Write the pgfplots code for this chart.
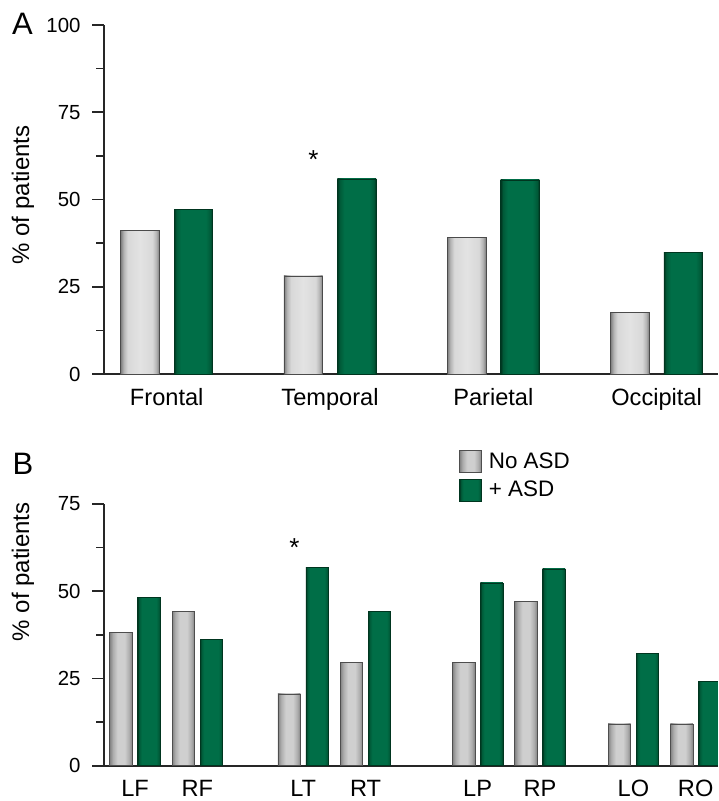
\documentclass[border=0pt]{standalone}
\usepackage{fontspec}
\setmainfont{Liberation Sans}
\usepackage{pgfplots}
\pgfplotsset{compat=1.18}

\definecolor{gAe}{HTML}{7D7D7D}
\definecolor{gAm}{HTML}{B4B4B4}
\definecolor{gAn}{HTML}{D8D8D8}
\definecolor{gAc}{HTML}{E3E3E3}
\definecolor{gBe}{HTML}{828282}
\definecolor{gBm}{HTML}{ADADAD}
\definecolor{gBc}{HTML}{CFCFCF}
\definecolor{grE}{HTML}{00351F}
\definecolor{grM}{HTML}{005A38}
\definecolor{grC}{HTML}{006E47}

\pgfdeclarehorizontalshading{grayA}{100bp}{color(0bp)=(gAe); color(25bp)=(gAe); color(29bp)=(gAm); color(34bp)=(gAn); color(50bp)=(gAc); color(66bp)=(gAn); color(71bp)=(gAm); color(75bp)=(gAe); color(100bp)=(gAe)}
\pgfdeclarehorizontalshading{grayB}{100bp}{color(0bp)=(gBe); color(25bp)=(gBe); color(32bp)=(gBm); color(42bp)=(gBc); color(50bp)=(gBc); color(58bp)=(gBc); color(68bp)=(gBm); color(75bp)=(gBe); color(100bp)=(gBe)}
\pgfdeclarehorizontalshading{greenS}{100bp}{color(0bp)=(grE); color(25bp)=(grE); color(28bp)=(grM); color(34bp)=(grC); color(50bp)=(grC); color(66bp)=(grC); color(72bp)=(grM); color(75bp)=(grE); color(100bp)=(grE)}

\pgfplotsset{
  panel/.style={
    scale only axis, width=307pt,
    ymin=0,
    axis x line=bottom, axis y line=left,
    axis line style={-, line width=0.9pt, black!85},
    tick align=outside,
    major tick length=6pt, minor tick length=4pt,
    every tick/.style={line width=0.8pt, black!85},
    xtick style={draw=none},
    /pgf/number format/assume math mode=true,
    yticklabel style={font=\fontsize{10.2}{12}\selectfont, xshift=-2.2pt},
    xticklabel style={font=\fontsize{11.8}{14}\selectfont, yshift=2.5pt},
    ylabel={\% of patients},
    ylabel style={font=\fontsize{12}{14}\selectfont, anchor=center},
    ybar, clip=true,
  },
  sqlegend/.style={legend image code/.code={\draw[##1, bar width=11pt, bar shift=0pt] (0pt,-5.5pt) rectangle (11pt,5.5pt); \path (12.5pt,0pt);}},
  nA/.style={shading=grayA, draw=gAe!60!black, line width=0.3pt, bar width=19.35pt, bar shift=-13.35pt, forget plot},
  pA/.style={shading=greenS, draw=grE, line width=0.3pt, bar width=19.35pt, bar shift=13.35pt, forget plot},
  nB/.style={shading=grayB, draw=gBe!60!black, line width=0.3pt, bar width=11.25pt, bar shift=-7pt, forget plot},
  pB/.style={shading=greenS, draw=grE, line width=0.3pt, bar width=11.25pt, bar shift=7pt, forget plot},
}

\begin{document}
\begin{tikzpicture}
\useasboundingbox (0pt,0pt) rectangle (359pt,-400.5pt);
\node[font=\fontsize{15.5}{18}\selectfont, inner sep=0pt] at (11.25pt,-12pt) {A};
\node[font=\fontsize{15.5}{18}\selectfont, inner sep=0pt] at (11.5pt,-232pt) {B};

\begin{axis}[panel,
  at={(52pt,-187pt)}, anchor=south west,
  height=174.5pt,
  xmin=-0.384, xmax=3.376, ymax=100,
  ytick={0,25,50,75,100}, minor ytick={12.5,37.5,62.5,87.5},
  xtick={0,1,2,3}, xticklabels={Frontal,Temporal,Parietal,Occipital},
  ylabel style={at={(axis description cs:-0.132,0.513)}},
]
% No ASD
\addplot[nA] coordinates {(0,41.1)};
\addplot[nA] coordinates {(1,28.1)};
\addplot[nA] coordinates {(2,39.2)};
\addplot[nA] coordinates {(3,17.7)};
% + ASD
\addplot[pA] coordinates {(0,47.2)};
\addplot[pA] coordinates {(1,55.9)};
\addplot[pA] coordinates {(2,55.6)};
\addplot[pA] coordinates {(3,34.9)};
\node[font=\fontsize{13}{15}\selectfont, anchor=base, yshift=-7.4pt] at (axis cs:0.898,63.2) {*};
\end{axis}

\begin{axis}[panel,
  at={(52pt,-382.85pt)}, anchor=south west,
  height=130.85pt,
  xmin=-0.498, xmax=9.358, ymax=75,
  ytick={0,25,50,75}, minor ytick={12.5,37.5,62.5},
  xtick={0,1,2.7,3.7,5.5,6.5,8,9}, xticklabels={LF,RF,LT,RT,LP,RP,LO,RO},
  ylabel style={at={(axis description cs:-0.132,0.741)}},
  legend style={at={(0.578,1.214)}, anchor=north west, draw=none, fill=none,
    inner sep=0pt, font=\fontsize{11.2}{13}\selectfont, row sep=1pt},
  legend cell align=left,
]
\addlegendimage{shading=grayB, draw=gBe!60!black, line width=0.3pt, sqlegend}
\addlegendentry{No ASD}
\addlegendimage{shading=greenS, draw=grE, line width=0.3pt, sqlegend}
\addlegendentry{+ ASD}
% No ASD
\addplot[nB] coordinates {(0,38.1)};
\addplot[nB] coordinates {(1,44.3)};
\addplot[nB] coordinates {(2.7,20.6)};
\addplot[nB] coordinates {(3.7,29.7)};
\addplot[nB] coordinates {(5.5,29.5)};
\addplot[nB] coordinates {(6.5,47.2)};
\addplot[nB] coordinates {(8,12.0)};
\addplot[nB] coordinates {(9,12.0)};
% + ASD
\addplot[pB] coordinates {(0,48.3)};
\addplot[pB] coordinates {(1,36.1)};
\addplot[pB] coordinates {(2.7,56.8)};
\addplot[pB] coordinates {(3.7,44.3)};
\addplot[pB] coordinates {(5.5,52.4)};
\addplot[pB] coordinates {(6.5,56.4)};
\addplot[pB] coordinates {(8,32.2)};
\addplot[pB] coordinates {(9,24.1)};
\node[font=\fontsize{13}{15}\selectfont, anchor=base, yshift=-7.4pt] at (axis cs:2.557,64.2) {*};
\end{axis}
\end{tikzpicture}
\end{document}
